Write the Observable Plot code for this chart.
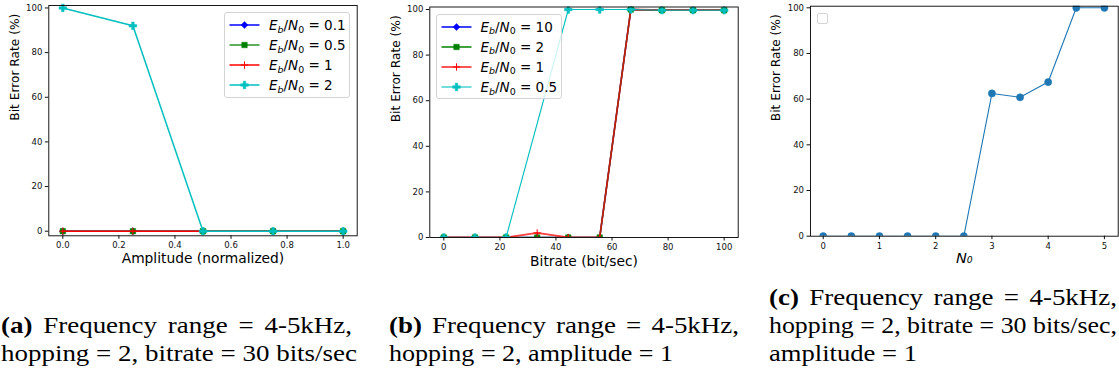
<!DOCTYPE html>
<html><head><meta charset="utf-8">
<script src="https://cdn.jsdelivr.net/npm/d3@7"></script>
<script src="https://cdn.jsdelivr.net/npm/@observablehq/plot@0.6"></script>
<style>
body{margin:0;background:#fff;}
#root{position:relative;width:1119px;height:376px;overflow:hidden;font-family:"DejaVu Sans";background:#fff;}
.panel{position:absolute;top:0;}
.legend{position:absolute;border:1px solid #d4d4d4;border-radius:3px;background:rgba(255,255,255,0.8);box-sizing:border-box;}
.row{position:absolute;left:0;height:18px;white-space:nowrap;font-size:13.5px;color:#000;}
.row svg{position:absolute;left:0;top:1px;}
.row .lab{position:absolute;top:0;line-height:18px;}
.sub{font-size:0.7em;position:relative;top:0.3em;}
.cap{position:absolute;font-family:"Liberation Serif","LiberationSerif",Tinos,"Times New Roman","Nimbus Roman No9 L",FreeSerif,Times,serif;font-size:24px;line-height:28px;white-space:nowrap;transform-origin:0 0;color:#000;}
.j{text-align:justify;text-align-last:justify;}
</style></head><body><div id="root"></div>
<script>
// ---------- data ----------
const ampX = [0, 0.25, 0.5, 0.75, 1.0];
const ampEb01 = [0, 0, 0, 0, 0];
const ampEb05 = [0, 0, 0, 0, 0];
const ampEb1 = [0, 0, 0, 0, 0];
const ampEb2 = [100, 92, 0, 0, 0];
const ampLegend = ["0.1", "0.5", "1", "2"];

const bitrateX = [0, 11.1, 22.2, 33.3, 44.4, 55.6, 66.7, 77.8, 88.9, 100];
const brEb10 = [0, 0, 0, 0, 0, 0, 100, 99.7, 99.7, 99.7];
const brEb2 = [0, 0, 0, 0, 0, 0, 100, 99.7, 99.7, 99.7];
const brEb1 = [0, 0, 0, 2, 0, 0, 100, 99.7, 99.7, 99.7];
const bitrateX05 = [0, 11.1, 22.2, 44.4, 55.6, 66.7, 77.8, 88.9, 100];
const brEb05 = [0, 0, 0, 100, 100, 100, 99.7, 99.7, 99.7];
const bitLegend = ["10", "2", "1", "0.5"];

const noiseX = [0, 0.5, 1, 1.5, 2, 2.5, 3, 3.5, 4, 4.5, 5];
const noiseBer = [0, 0, 0, 0, 0, 0, 62.5, 60.8, 67.5, 100, 100];

const ampTicks = [0, 0.2, 0.4, 0.6, 0.8, 1.0];
const berTicks = [0, 20, 40, 60, 80, 100];
const bitrateTicks = [0, 20, 40, 60, 80, 100];
const noiseTicks = [0, 1, 2, 3, 4, 5];

const captions = {
  a: ["<b>(a)</b> Frequency range = 4-5kHz,", "hopping = 2, bitrate = 30 bits/sec"],
  b: ["<b>(b)</b> Frequency range = 4-5kHz,", "hopping = 2, amplitude = 1"],
  c: ["<b>(c)</b> Frequency range = 4-5kHz,", "hopping = 2, bitrate = 30 bits/sec,", "amplitude = 1"]
};

// ---------- helpers ----------
const root = document.getElementById("root");
const rows = (xs, ys) => xs.map((x, i) => ({x, y: ys[i]}));
const symMap = {diamond2: d3.symbolDiamond2, square: d3.symbolSquare, plus: d3.symbolPlus, cross: d3.symbolCross, circle: d3.symbolCircle};

function seriesMarks(s, clip) {
  const data = rows(s.x, s.y);
  return [
    Plot.line(data, {x: "x", y: "y", stroke: s.color, strokeWidth: s.lw, strokeOpacity: s.lineOpacity ?? 1, clip}),
    Plot.dot(data, {x: "x", y: "y", symbol: s.symbol, r: s.r, fill: s.fill, stroke: s.mstroke, strokeWidth: s.msw ?? 0.5, clip})
  ];
}

function axes(xt, yt, xfmt) {
  return [
    Plot.axisX(xt, {tickSize: 3.5, tickPadding: 3, tickFormat: xfmt, label: null, fontSize: 8.5}),
    Plot.axisY(yt, {tickSize: 3.5, tickPadding: 3, label: null, fontSize: 8.5})
  ];
}

function place(svg, left) {
  const d = document.createElement("div");
  d.className = "panel";
  d.style.left = left + "px";
  d.appendChild(svg);
  root.appendChild(d);
}

const baseStyle = {fontFamily: "DejaVu Sans", color: "#111", background: "transparent", overflow: "visible"};

// ---------- panel (a) ----------
const seriesA = [
  {x: ampX, y: ampEb01, color: "blue", lw: 1.5, symbol: "diamond2", r: 3.1, fill: "blue", mstroke: "blue"},
  {x: ampX, y: ampEb05, color: "green", lw: 1.8, lineOpacity: 0.7, symbol: "square", r: 3.1, fill: "green", mstroke: "green"},
  {x: ampX, y: ampEb1, color: "red", lw: 1.5, symbol: "plus", r: 2.5, fill: "none", mstroke: "red", msw: 1},
  {x: ampX, y: ampEb2, color: "#00bfbf", lw: 1.5, symbol: "cross", r: 3.2, fill: "#00bfbf", mstroke: "#00bfbf"}
];
const plotA = Plot.plot({
  width: 370, height: 270,
  marginLeft: 48.3, marginRight: 13.3, marginTop: 5, marginBottom: 34.7,
  x: {domain: [-0.05, 1.05], label: null},
  y: {domain: [-2.06, 101.1], label: null},
  style: baseStyle,
  marks: [
    ...axes(ampTicks, berTicks, d => d.toFixed(1)),
    ...seriesA.flatMap(s => seriesMarks(s, false)),
    Plot.frame({stroke: "#000", strokeWidth: 0.9}),
    Plot.text(["Amplitude (normalized)"], {frameAnchor: "bottom", dy: 23, lineAnchor: "middle", fontSize: 13.8, fill: "#000"}),
    Plot.text(["Bit Error Rate (%)"], {frameAnchor: "left", dx: -33.5, rotate: -90, lineAnchor: "middle", fontSize: 12.2, fill: "#000"})
  ]
});
place(plotA, 0);

// ---------- panel (b) ----------
const seriesB = [
  {x: bitrateX, y: brEb10, color: "blue", lw: 1.5, symbol: "diamond2", r: 3.1, fill: "blue", mstroke: "blue"},
  {x: bitrateX, y: brEb2, color: "green", lw: 1.5, symbol: "square", r: 3.1, fill: "green", mstroke: "green"},
  {x: bitrateX, y: brEb1, color: "red", lw: 1.8, lineOpacity: 0.75, symbol: "plus", r: 2.5, fill: "none", mstroke: "red", msw: 1},
  {x: bitrateX05, y: brEb05, color: "#00bfbf", lw: 1.1, symbol: "cross", r: 3.2, fill: "#00bfbf", mstroke: "#00bfbf"}
];
const plotB = Plot.plot({
  width: 380, height: 270,
  marginLeft: 59.3, marginRight: 12.3, marginTop: 6.5, marginBottom: 33,
  x: {domain: [-5, 105], label: null},
  y: {domain: [0, 101.1], label: null},
  style: baseStyle,
  marks: [
    ...axes(bitrateTicks, berTicks, d => String(d)),
    ...seriesB.flatMap(s => seriesMarks(s, true)),
    Plot.frame({stroke: "#000", strokeWidth: 0.9}),
    Plot.text(["Bitrate (bit/sec)"], {frameAnchor: "bottom", dy: 24, lineAnchor: "middle", fontSize: 13.8, fill: "#000"}),
    Plot.text(["Bit Error Rate (%)"], {frameAnchor: "left", dx: -33.5, rotate: -90, lineAnchor: "middle", fontSize: 12.2, fill: "#000"})
  ]
});
place(plotB, 370);

// ---------- panel (c) ----------
const seriesC = [
  {x: noiseX, y: noiseBer, color: "#1f77b4", lw: 1.1, symbol: "circle", r: 3.6, fill: "#1f77b4", mstroke: "#1f77b4"}
];
const plotC = Plot.plot({
  width: 369, height: 270,
  marginLeft: 60, marginRight: 1.3, marginTop: 5.7, marginBottom: 34.3,
  x: {domain: [-0.226, 5.245], label: null},
  y: {domain: [0, 100.7], label: null},
  style: baseStyle,
  marks: [
    ...axes(noiseTicks, berTicks, d => String(d)),
    ...seriesC.flatMap(s => seriesMarks(s, true)),
    Plot.frame({stroke: "#000", strokeWidth: 0.9}),
    Plot.text(["N₀"], {frameAnchor: "bottom", dy: 22.5, lineAnchor: "middle", fontSize: 14.5, fontStyle: "italic", fill: "#000"}),
    Plot.text(["Bit Error Rate (%)"], {frameAnchor: "left", dx: -34, rotate: -90, lineAnchor: "middle", fontSize: 12.2, fill: "#000"})
  ]
});
place(plotC, 750);

// ---------- legends ----------
function legend(left, top, w, h, series, labels, rowYs, textX) {
  const box = document.createElement("div");
  box.className = "legend";
  Object.assign(box.style, {left: left + "px", top: top + "px", width: w + "px", height: h + "px"});
  series.forEach((s, i) => {
    const row = document.createElement("div");
    row.className = "row";
    row.style.top = (rowYs[i] - 9) + "px";
    row.style.width = (w - 2) + "px";
    const sym = d3.symbol(symMap[s.symbol], Math.PI * s.r * s.r)();
    row.innerHTML =
      `<svg width="40" height="16"><line x1="4.5" x2="34.5" y1="8" y2="8" stroke="${s.color}" stroke-width="${s.lw}" stroke-opacity="${s.lineOpacity ?? 1}"/>` +
      `<path d="${sym}" transform="translate(19.5,8)" fill="${s.fill}" stroke="${s.mstroke}" stroke-width="${s.msw ?? 0.5}"/></svg>` +
      `<span class="lab" style="left:${textX}px"><i>E</i><span class="sub"><i>b</i></span>/<i>N</i><span class="sub">0</span> = ${labels[i]}</span>`;
    box.appendChild(row);
  });
  root.appendChild(box);
}
legend(224, 11.7, 126, 86, seriesA, ampLegend, [12.5, 32.5, 52.5, 72.5], 44);
legend(435.5, 14, 126, 85, seriesB, bitLegend, [11.5, 31.5, 51.5, 72], 44);

// empty legend in (c)
const emptyBox = document.createElement("div");
emptyBox.className = "legend";
Object.assign(emptyBox.style, {left: "816.5px", top: "12.5px", width: "11px", height: "11px", borderRadius: "2px"});
root.appendChild(emptyBox);

// ---------- captions ----------
function naturalWidth(html) {
  const p = document.createElement("div");
  p.className = "cap";
  p.style.visibility = "hidden";
  p.innerHTML = html;
  root.appendChild(p);
  const w = p.getBoundingClientRect().width;
  p.remove();
  return w;
}
const capScale = 356 / naturalWidth(captions.a[1]);

// widths: target width of each line in the reference
function caption(left, tops, lines, widths) {
  lines.forEach((t, i) => {
    const d = document.createElement("div");
    const last = i === lines.length - 1;
    const nat = naturalWidth(t);
    const s = Math.min(capScale, widths[i] / nat);
    d.className = "cap" + (last ? "" : " j");
    d.style.left = left + "px";
    d.style.top = tops[i] + "px";
    d.style.transform = `scaleX(${s})`;
    if (!last) d.style.width = (widths[i] / s) + "px";
    d.innerHTML = t;
    root.appendChild(d);
  });
}
caption(1, [311, 339], captions.a, [351, 356]);
caption(389, [311, 339], captions.b, [350, 284]);
caption(769, [283, 311, 339], captions.c, [348, 348, 148]);
</script>
</body></html>
